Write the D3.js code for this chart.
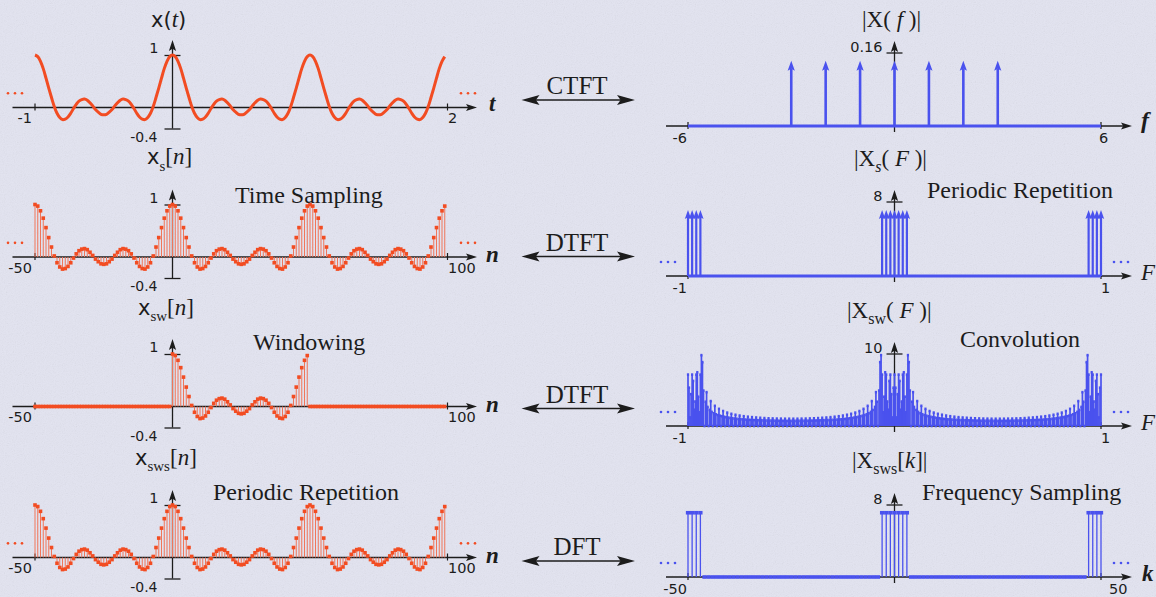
<!DOCTYPE html>
<html>
<head>
<meta charset="utf-8">
<script src="https://cdn.jsdelivr.net/npm/d3@7"></script>
<style>
  body { margin: 0; background: #dfe0ed; }
  svg { display: block; }
</style>
</head>
<body>
<svg id="chart" width="1156" height="597"></svg>
<script>
// ---------- data ----------
// one period (n = 0..49) of the sampled signal x[n]
const xPeriod = [1.00,0.97,0.88,0.74,0.56,0.37,0.19,0.02,-0.11,-0.19,
  -0.23,-0.22,-0.18,-0.11,-0.02,0.06,0.12,0.15,0.16,0.14,
  0.09,0.03,-0.04,-0.09,-0.13,-0.14,-0.13,-0.09,-0.04,0.03,
  0.09,0.14,0.16,0.15,0.12,0.06,-0.02,-0.11,-0.18,-0.22,
  -0.23,-0.19,-0.11,0.02,0.19,0.37,0.56,0.74,0.88,0.97];
const periodN = 50;
const nFirst = -50, nLast = 99;
const windowFirst = 0, windowLast = 49;

// line spectrum of x(t)
const fLines = [-3,-2,-1,0,1,2,3];
const fLineMag = [0.143,0.143,0.143,0.143,0.143,0.143,0.143];

// line spectrum of the sampled signal on F in [-1, 1]
const FLines = [-1,-0.98,-0.96,-0.94,-0.06,-0.04,-0.02,0,0.02,0.04,0.06,0.94,0.96,0.98,1];
const FLineMag = [7.14,7.14,7.14,7.14,7.14,7.14,7.14,7.14,7.14,7.14,7.14,7.14,7.14,7.14,7.14];

// |Xsw(F)| on F = -1 .. 1, step 0.005
const swStep = 0.005;
const xswMag = [
  7.14,5.32,1.19,4.42,7.14,6.26,2.26,3.40,7.14,7.46,4.07,1.91,7.14,9.84,8.87,4.92,
  0,3.37,4.70,2.65,0,2.24,3.46,1.96,0,1.77,2.80,1.63,0,1.52,2.38,1.43,
  0,1.35,2.08,1.28,0,1.22,1.86,1.17,0,1.12,1.69,1.08,0,1.04,1.56,1.00,
  0,0.97,1.45,0.95,0,0.92,1.36,0.90,0,0.88,1.29,0.86,0,0.85,1.23,0.83,
  0,0.82,1.18,0.81,0,0.80,1.14,0.79,0,0.78,1.10,0.77,0,0.76,1.07,0.75,
  0,0.75,1.05,0.74,0,0.73,1.03,0.73,0,0.72,1.02,0.72,0,0.72,1.01,0.71,
  0,0.71,1.01,0.71,0,
  0.71,1.01,0.71,0,0.71,1.01,0.72,0,0.72,1.02,0.72,0,0.73,1.03,0.73,0,
  0.74,1.05,0.75,0,0.75,1.07,0.76,0,0.77,1.10,0.78,0,0.79,1.14,0.80,0,
  0.81,1.18,0.82,0,0.83,1.23,0.85,0,0.86,1.29,0.88,0,0.90,1.36,0.92,0,
  0.95,1.45,0.97,0,1.00,1.56,1.04,0,1.08,1.69,1.12,0,1.17,1.86,1.22,0,
  1.28,2.08,1.35,0,1.43,2.38,1.52,0,1.63,2.80,1.77,0,1.96,3.46,2.24,0,
  2.65,4.70,3.37,0,4.92,8.87,9.84,7.14,1.91,4.07,7.46,7.14,3.40,2.26,6.26,7.14,
  4.42,1.19,5.32,7.14,
  5.32,1.19,4.42,7.14,6.26,2.26,3.40,7.14,7.46,4.07,1.91,7.14,9.84,8.87,4.92,
  0,3.37,4.70,2.65,0,2.24,3.46,1.96,0,1.77,2.80,1.63,0,1.52,2.38,1.43,
  0,1.35,2.08,1.28,0,1.22,1.86,1.17,0,1.12,1.69,1.08,0,1.04,1.56,1.00,
  0,0.97,1.45,0.95,0,0.92,1.36,0.90,0,0.88,1.29,0.86,0,0.85,1.23,0.83,
  0,0.82,1.18,0.81,0,0.80,1.14,0.79,0,0.78,1.10,0.77,0,0.76,1.07,0.75,
  0,0.75,1.05,0.74,0,0.73,1.03,0.73,0,0.72,1.02,0.72,0,0.72,1.01,0.71,
  0,0.71,1.01,0.71,0,
  0.71,1.01,0.71,0,0.71,1.01,0.72,0,0.72,1.02,0.72,0,0.73,1.03,0.73,0,
  0.74,1.05,0.75,0,0.75,1.07,0.76,0,0.77,1.10,0.78,0,0.79,1.14,0.80,0,
  0.81,1.18,0.82,0,0.83,1.23,0.85,0,0.86,1.29,0.88,0,0.90,1.36,0.92,0,
  0.95,1.45,0.97,0,1.00,1.56,1.04,0,1.08,1.69,1.12,0,1.17,1.86,1.22,0,
  1.28,2.08,1.35,0,1.43,2.38,1.52,0,1.63,2.80,1.77,0,1.96,3.46,2.24,0,
  2.65,4.70,3.37,0,4.92,8.87,9.84,7.14,1.91,4.07,7.46,7.14,3.40,2.26,6.26,7.14,
  4.42,1.19,5.32,7.14
];

// DFT magnitudes |Xsws[k]|, k = -50 .. 50
const kFirst = -50;
const xswsMag = [
  7.14,7.14,7.14,7.14,
  0,0,0,0,0,0,0,0,0,0, 0,0,0,0,0,0,0,0,0,0, 0,0,0,0,0,0,0,0,0,0, 0,0,0,0,0,0,0,0,0,0, 0,0,0,
  7.14,7.14,7.14,7.14,7.14,7.14,7.14,
  0,0,0,0,0,0,0,0,0,0, 0,0,0,0,0,0,0,0,0,0, 0,0,0,0,0,0,0,0,0,0, 0,0,0,0,0,0,0,0,0,0, 0,0,0,
  7.14,7.14,7.14,7.14
];

// tick labels and captions
const leftTimeTicks = ["-1", "2"];
const leftIndexTicks = ["-50", "100"];
const leftValueTicks = ["1", "-0.4"];
const transformNames = ["CTFT", "DTFT", "DTFT", "DFT"];
const stepNamesLeft = ["Time Sampling", "Windowing", "Periodic Repetition"];
const stepNamesRight = ["Periodic Repetition", "Convolution", "Frequency Sampling"];

// ---------- styles ----------
const RED = "#f24c22", RED_STEM = "#f0765a", BLUE = "#4a52ee", INK = "#1c1c1c";
const SERIF = '"Liberation Serif","Times New Roman",serif';
const SANS = '"DejaVu Sans",Verdana,sans-serif';

const svg = d3.select("#chart");
const W = 1156, H = 597;

// paper-like grain
const defs = svg.append("defs");
const grain = defs.append("filter").attr("id", "grain").attr("x", 0).attr("y", 0).attr("width", 1).attr("height", 1);
grain.append("feTurbulence").attr("type", "fractalNoise").attr("baseFrequency", 0.9).attr("numOctaves", 2).attr("seed", 7);
grain.append("feColorMatrix").attr("type", "saturate").attr("values", 0);
svg.append("rect").attr("width", W).attr("height", H).attr("fill", "#e3e4f1");
svg.append("rect").attr("width", W).attr("height", H).attr("filter", "url(#grain)").attr("opacity", 0.14);

// ---------- scales ----------
const nX = d3.scaleLinear().domain([-50, 100]).range([35, 447.5]);
const tX = d3.scaleLinear().domain([-1, 2]).range([35, 447.5]);
const FX = d3.scaleLinear().domain([-1, 1]).range([688, 1101]);
const fX = d3.scaleLinear().domain([-6, 6]).range([688, 1101]);
const kX = d3.scaleLinear().domain([-50, 50]).range([688, 1101]);
const leftY = base => d3.scaleLinear().domain([0, 1]).range([base, base - 52.5]);

const yP = [leftY(107.5), leftY(257), leftY(406.5), leftY(557.5)];
const yR = [
  d3.scaleLinear().domain([0, 0.16]).range([126, 53]),
  d3.scaleLinear().domain([0, 8]).range([276, 202]),
  d3.scaleLinear().domain([0, 10]).range([426, 354]),
  d3.scaleLinear().domain([0, 8]).range([577, 505])
];

// ---------- helpers ----------
function head(g, x, y, dir, len, half, fill) {
  let p;
  if (dir === "r") p = [[x, y], [x - len, y - half], [x - len * 0.8, y], [x - len, y + half]];
  else if (dir === "l") p = [[x, y], [x + len, y - half], [x + len * 0.8, y], [x + len, y + half]];
  else p = [[x, y], [x - half, y + len], [x, y + len * 0.8], [x + half, y + len]];
  g.append("path").attr("d", "M" + p.join("L") + "Z").attr("fill", fill);
}

function label(x, y, txt, opts = {}) {
  return svg.append("text").attr("x", x).attr("y", y).text(txt)
    .attr("font-family", opts.family || SANS).attr("font-size", opts.size || 14.5)
    .attr("text-anchor", opts.anchor || "start").attr("fill", INK)
    .attr("font-style", opts.italic ? "italic" : null)
    .attr("font-weight", opts.bold ? "bold" : null);
}

function rich(x, y, size, parts) {
  const t = svg.append("text").attr("x", x).attr("y", y).attr("font-size", size).attr("fill", INK);
  let shift = 0;
  parts.forEach(p => {
    const s = t.append("tspan").text(p.t).attr("font-family", p.sans ? SANS : SERIF);
    if (p.i) s.attr("font-style", "italic");
    if (p.size) s.attr("font-size", p.size);
    const target = p.sub || 0;
    if (target !== shift) { s.attr("dy", target - shift); shift = target; }
  });
}

function dots(x, y, color) {
  [0, 7, 14].forEach(d => svg.append("circle").attr("cx", x + d).attr("cy", y).attr("r", 1.3).attr("fill", color));
}

// left-hand frame: horizontal axis with arrow, vertical axis with ticks at 1 and -0.4
function leftFrame(y, xs, xLabels) {
  const g = svg.append("g");
  const y0 = y(0), x0 = xs(0);
  g.append("line").attr("x1", 12.5).attr("x2", 470).attr("y1", y0).attr("y2", y0)
    .attr("stroke", INK).attr("stroke-width", 1.3);
  head(g, 477, y0, "r", 11, 3.6, INK);
  xs.domain().forEach(v => g.append("line").attr("x1", xs(v)).attr("x2", xs(v))
    .attr("y1", y0 - 4).attr("y2", y0 + 3).attr("stroke", INK).attr("stroke-width", 1.2));
  const yAxis = d3.axisLeft(y).tickValues([1, -0.4]).tickSize(16).tickFormat("");
  const ax = g.append("g").attr("transform", `translate(${x0 + 8},0)`).call(yAxis);
  ax.select(".domain").remove();
  ax.selectAll(".tick line").attr("stroke", INK).attr("stroke-width", 1.3);
  g.append("line").attr("x1", x0).attr("x2", x0).attr("y1", y(-0.4)).attr("y2", y(1) - 8)
    .attr("stroke", INK).attr("stroke-width", 1.3);
  head(g, x0, y(1) - 15, "u", 11, 3.6, INK);
  label(xs(xs.domain()[0]) - 3, y0 + 15.5, xLabels[0], { anchor: "end" });
  label(xs(xs.domain()[1]) + 0.5, y0 + 15.5, xLabels[1]);
  label(x0 - 14, y(1) - 2, leftValueTicks[0], { anchor: "end" });
  label(x0 - 15, y(-0.4) + 13, leftValueTicks[1], { anchor: "end", size: 14 });
}

// right-hand frame
function rightFrame(y, xs, top, topText, xLabels, xLabelDx) {
  const g = svg.append("g");
  const y0 = y(0), x0 = xs(0);
  g.append("line").attr("x1", 666).attr("x2", 1126).attr("y1", y0).attr("y2", y0)
    .attr("stroke", INK).attr("stroke-width", 1.3);
  head(g, 1132, y0, "r", 11, 3.6, INK);
  xs.domain().forEach(v => g.append("line").attr("x1", xs(v)).attr("x2", xs(v))
    .attr("y1", y0 - 4).attr("y2", y0 + 3).attr("stroke", INK).attr("stroke-width", 1.2));
  g.append("line").attr("x1", x0).attr("x2", x0).attr("y1", y0 + 6).attr("y2", y(top) - 6)
    .attr("stroke", INK).attr("stroke-width", 1.3);
  g.append("line").attr("x1", x0 - 8).attr("x2", x0 + 8).attr("y1", y(top)).attr("y2", y(top))
    .attr("stroke", INK).attr("stroke-width", 1.3);
  head(g, x0, y(top) - 12, "u", 11, 3.6, INK);
  label(x0 - 12, y(top) - 1, topText, { anchor: "end" });
  label(xs(xs.domain()[0]) - 1, y0 + 17, xLabels[0], { anchor: "end" });
  label(xs(xs.domain()[1]) + xLabelDx, y0 + 17, xLabels[1]);
}

// ---------- sample series ----------
const nIdx = d3.range(nFirst, nLast + 1);
const xs = nIdx.map(n => ({ n, v: xPeriod[((n % periodN) + periodN) % periodN] }));
const xsw = xs.map(d => ({ n: d.n, v: (d.n >= windowFirst && d.n <= windowLast) ? d.v : 0 }));

function stems(data, xsc, y, color, stemColor, stemW, mw, mh) {
  const g = svg.append("g");
  g.selectAll("line").data(data).join("line")
    .attr("x1", d => xsc(d.x)).attr("x2", d => xsc(d.x))
    .attr("y1", y(0)).attr("y2", d => y(d.v))
    .attr("stroke", stemColor).attr("stroke-width", stemW);
  g.selectAll("rect").data(data).join("rect")
    .attr("x", d => xsc(d.x) - mw / 2).attr("y", d => y(d.v) - mh / 2)
    .attr("width", mw).attr("height", mh).attr("fill", color);
}

// ---------- left column ----------
leftFrame(yP[0], tX, leftTimeTicks);
leftFrame(yP[1], nX, leftIndexTicks);
leftFrame(yP[2], nX, leftIndexTicks);
leftFrame(yP[3], nX, leftIndexTicks);

// continuous x(t)
svg.append("path")
  .datum(xs)
  .attr("d", d3.line().x(d => tX(d.n / periodN)).y(d => yP[0](d.v)).curve(d3.curveCatmullRom))
  .attr("fill", "none").attr("stroke", RED).attr("stroke-width", 3).attr("stroke-linejoin", "round");

stems(xs.map(d => ({ x: d.n, v: d.v })), nX, yP[1], RED, RED_STEM, 1, 3.6, 3.6);
stems(xsw.map(d => ({ x: d.n, v: d.v })), nX, yP[2], RED, RED_STEM, 1, 3.6, 3.6);
stems(xs.map(d => ({ x: d.n, v: d.v })), nX, yP[3], RED, RED_STEM, 1, 3.6, 3.6);

// continuation dots
[yP[0], yP[1], yP[3]].forEach(y => {
  dots(8, y(0.27), RED);
  dots(461, y(0.27), RED);
});

// left titles
rich(151, 27, 21, [{ t: "x", sans: true }, { t: "(", sans: true }, { t: "t", i: true, size: 23 }, { t: ")", sans: true }]);
rich(147, 164, 23, [{ t: "x", sans: true, size: 21 }, { t: "s", sub: 7, size: 15 }, { t: "[" }, { t: "n", i: true }, { t: "]" }]);
rich(138, 315, 23, [{ t: "x", sans: true, size: 21 }, { t: "sw", sub: 6, size: 15 }, { t: "[" }, { t: "n", i: true }, { t: "]" }]);
rich(135, 465, 23, [{ t: "x", sans: true, size: 21 }, { t: "sws", sub: 6, size: 15 }, { t: "[" }, { t: "n", i: true }, { t: "]" }]);

label(235, 203, stepNamesLeft[0], { family: SERIF, size: 24 });
label(253, 350, stepNamesLeft[1], { family: SERIF, size: 24 });
label(213, 500, stepNamesLeft[2], { family: SERIF, size: 24 });

// axis variable names
label(489, 111, "t", { family: SERIF, size: 23, italic: true, bold: true });
[yP[1], yP[2], yP[3]].forEach(y => label(486, y(0) + 5, "n", { family: SERIF, size: 23, italic: true, bold: true }));

// ---------- middle: transform pairs ----------
const midY = [100, 256.5, 408.5, 561];
transformNames.forEach((name, i) => {
  const g = svg.append("g");
  g.append("line").attr("x1", 535).attr("x2", 621).attr("y1", midY[i]).attr("y2", midY[i])
    .attr("stroke", INK).attr("stroke-width", 1.3);
  head(g, 521.5, midY[i], "l", 18, 5, INK);
  head(g, 635, midY[i], "r", 18, 5, INK);
  label(577, midY[i] - 6, name, { family: SERIF, size: 25, anchor: "middle" });
});

// ---------- right column ----------
rightFrame(yR[0], fX, 0.16, "0.16", ["-6", "6"], -2);
rightFrame(yR[1], FX, 8, "8", ["-1", "1"], 0);
rightFrame(yR[2], FX, 10, "10", ["-1", "1"], 0);
rightFrame(yR[3], kX, 8, "8", ["-50", "50"], 8);

// zero lines under the impulse spectra
[[yR[0], fX], [yR[1], FX]].forEach(([y, xsc]) => {
  svg.append("line").attr("x1", xsc.range()[0]).attr("x2", xsc.range()[1])
    .attr("y1", y(0)).attr("y2", y(0)).attr("stroke", BLUE).attr("stroke-width", 3);
});

function impulses(pos, mag, xsc, y, w, len, half) {
  const g = svg.append("g");
  pos.forEach((p, i) => {
    g.append("line").attr("x1", xsc(p)).attr("x2", xsc(p)).attr("y1", y(0)).attr("y2", y(mag[i]) + len - 2)
      .attr("stroke", BLUE).attr("stroke-width", w);
    head(g, xsc(p), y(mag[i]), "u", len, half, BLUE);
  });
}
impulses(fLines, fLineMag, fX, yR[0], 2.6, 10, 3.6);
impulses(FLines, FLineMag, FX, yR[1], 2.2, 9, 3.2);

stems(xswMag.map((v, i) => ({ x: -1 + i * swStep, v })), FX, yR[2], BLUE, BLUE, 1.7, 2.2, 2.6);
stems(xswsMag.map((v, i) => ({ x: kFirst + i, v })), kX, yR[3], BLUE, BLUE, 1.3, 4.3, 3.6);

[yR[1], yR[2], yR[3]].forEach(y => {
  dots(661, y(0) - 14, BLUE);
  dots(1114, y(0) - 14, BLUE);
});

// right titles
rich(862, 27, 23, [{ t: "|X( " }, { t: "f", i: true }, { t: " )|" }]);
rich(854, 166, 23, [{ t: "|X" }, { t: "s", sub: 6, size: 16, i: true }, { t: "( " }, { t: "F", i: true }, { t: " )|" }]);
rich(847, 318, 23, [{ t: "|X" }, { t: "sw", sub: 6, size: 16 }, { t: "( " }, { t: "F", i: true }, { t: " )|" }]);
rich(852, 468, 23, [{ t: "|X" }, { t: "sws", sub: 6, size: 16 }, { t: "[" }, { t: "k", i: true }, { t: "]|" }]);

label(927, 198, stepNamesRight[0], { family: SERIF, size: 24 });
label(960, 347, stepNamesRight[1], { family: SERIF, size: 24 });
label(922, 500, stepNamesRight[2], { family: SERIF, size: 24 });

label(1141, 128, "f", { family: SERIF, size: 24, italic: true, bold: true });
label(1141, 280, "F", { family: SERIF, size: 23, italic: true });
label(1141, 430, "F", { family: SERIF, size: 23, italic: true });
label(1142, 581, "k", { family: SERIF, size: 23, italic: true, bold: true });
</script>
</body>
</html>
